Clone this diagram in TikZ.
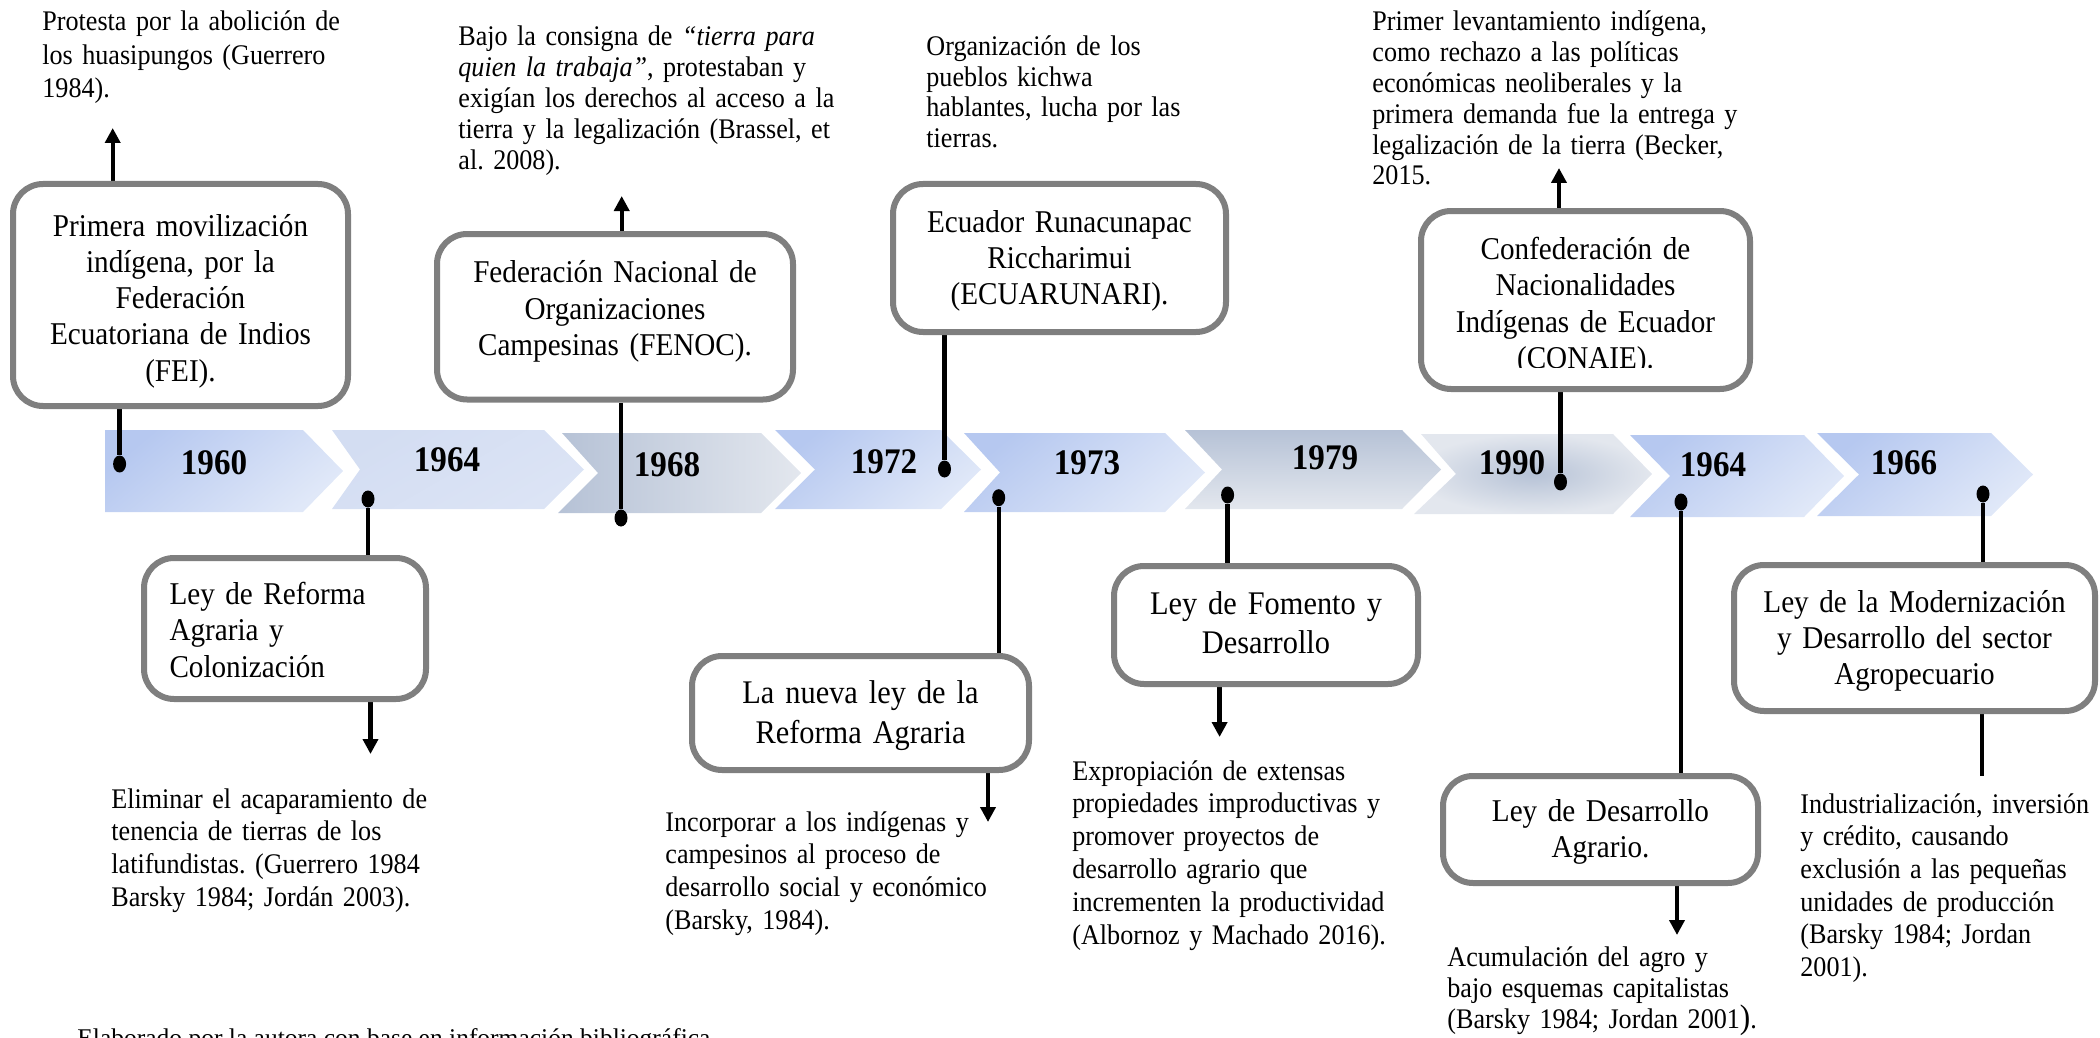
\documentclass[tikz,border=0pt]{standalone}
\usepackage{fontspec}
\setmainfont{Liberation Serif}[FakeStretch=0.92]
\newfontfamily\capfont{Liberation Serif}
\usetikzlibrary{arrows.meta,shapes.geometric}
\pgfdeclarelayer{chev}
\pgfdeclarelayer{lines}
\pgfsetlayers{chev,lines,main}
\definecolor{boxgray}{HTML}{7F7F7F}
\definecolor{cbA}{HTML}{B6C8F0}
\definecolor{cbB}{HTML}{E0E8F8}
\definecolor{cpaleA}{HTML}{D3DDF2}
\definecolor{cpaleB}{HTML}{DCE4F5}
\definecolor{cgA}{HTML}{B6C2D6}
\definecolor{cgB}{HTML}{E3E7EE}
\newcommand\bxfont{\fontsize{15.85pt}{18.15pt}\selectfont}
\newcommand\bxfontL{\fontsize{16.5pt}{19.7pt}\selectfont}
\newcommand\yrfont{\fontsize{18pt}{18pt}\selectfont\bfseries}
% box text with vertical shift #1 (positive = lower)
\newcommand\bxt[2]{\rule{0pt}{\dimexpr 14pt+#1\relax}#2\rule[\dimexpr -6pt+#1\relax]{0pt}{0pt}}
\begin{document}
\frenchspacing
\begin{tikzpicture}[x=0.5pt,y=-0.5pt,
  conn/.style={line width=2.2pt, black},
  arr/.style={conn, -{Triangle[length=7.5pt,width=7.5pt]}},
  dotn/.style={ellipse, fill=black, inner sep=0pt, minimum width=6.5pt, minimum height=8.5pt},
  boxn/.style={draw=boxgray, line width=3pt, rounded corners=15pt, fill=white, inner sep=0pt, align=center, font=\bxfont},
  yr/.style={font=\yrfont, inner sep=0pt},
  tblock/.style={anchor=base west, inner sep=0pt, text width=280pt, align=left, font=\fontsize{14.2pt}{#1}\selectfont},
  chblue/.style={top color=cbA, bottom color=cbB, shading angle=40},
]
\useasboundingbox (0,0) rectangle (2100,1038);

% ---- chevrons ----
\begin{pgfonlayer}{chev}
\path[chblue] (105,430)--(303,430)--(343,471)--(303,512)--(105,512)--cycle;
\path[top color=cpaleA, bottom color=cpaleB, shading angle=30] (332,430)--(544,430)--(584,469.5)--(544,509)--(332,509)--(360,469.5)--cycle;
\path[left color=cgA, right color=cgB] (562,433)--(761,433)--(801,473)--(761,513)--(558,513)--(598,473)--cycle;
\path[chblue] (775,430)--(941,430)--(981,469.5)--(941,509)--(775,509)--(815,469.5)--cycle;
\path[chblue] (964,433)--(1165,433)--(1205,472.5)--(1165,512)--(964,512)--(1000,472.5)--cycle;
\path[top color=cgA, bottom color=cgB] (1185,430)--(1402,430)--(1441,469.5)--(1402,509)--(1185,509)--(1222,469.5)--cycle;
\path[inner color=cgA, outer color=cgB] (1421,434)--(1613,434)--(1652,474)--(1613,514)--(1414,514)--(1456,474)--cycle;
\path[chblue] (1630,435)--(1804,435)--(1844,476)--(1804,517)--(1630,517)--(1670,476)--cycle;
\path[chblue] (1817,433)--(1991,433)--(2033,474.5)--(1991,516)--(1817,516)--(1859,474.5)--cycle;
\end{pgfonlayer}

% ---- years ----
\node[yr] (y1960) at (214,463) {1960};
\node[yr] (y1964a) at (447,460) {1964};
\node[yr] (y1968) at (667,465) {1968};
\node[yr] (y1972) at (884,462) {1972};
\node[yr] (y1973) at (1087,463) {1973};
\node[yr] (y1979) at (1325,458) {1979};
\node[yr] (y1990) at (1512,463) {1990};
\node[yr] (y1964b) at (1713,465) {1964};
\node[yr] (y1966) at (1904,463) {1966};

% ---- dots ----
\node[dotn] (d1960) at (119.6,464) {};
\node[dotn] (d1964a) at (368,499) {};
\node[dotn] (d1968) at (621,518) {};
\node[dotn] (d1972) at (944.5,469) {};
\node[dotn] (d1973) at (998.7,497.7) {};
\node[dotn] (d1979) at (1227.6,495) {};
\node[dotn] (d1990) at (1560.5,482) {};
\node[dotn] (d1964b) at (1681,502) {};
\node[dotn] (d1966) at (1983,494) {};

% ---- boxes ----
\node[boxn, minimum width=167.5pt, minimum height=111pt, text width=160pt] (B1) at (180.5,295) {\bxt{3pt}{Primera movilización\\indígena, por la\\Federación\\Ecuatoriana de Indios\\(FEI).}};
\node[boxn, minimum width=178pt, minimum height=82.75pt, text width=170pt] (B2) at (615,316.75) {\bxt{-2.8pt}{Federación Nacional de\\Organizaciones\\Campesinas (FENOC).}};
\node[boxn, minimum width=166.5pt, minimum height=74pt, text width=160pt] (B3) at (1059.5,258) {\bxt{1.3pt}{Ecuador Runacunapac\\Riccharimui\\(ECUARUNARI).}};
\node[boxn, minimum width=164.5pt, minimum height=89pt, text width=158pt] (B4) at (1585.5,300) {\bxt{3.4pt}{Confederación de\\Nacionalidades\\Indígenas de Ecuador\\(CONAIE).}};
\fill[white] (1470,368) rectangle (1700,385.5);
\node[boxn, align=left, minimum width=141pt, minimum height=70.5pt, text width=115.5pt] (B5) at (285,628.5) {\bxt{2.2pt}{Ley de Reforma\\Agraria y\\Colonización}};
\node[boxn, font=\bxfontL, minimum width=168.5pt, minimum height=57pt, text width=160pt] (B6) at (860.5,713) {\bxt{1.3pt}{La nueva ley de la\\Reforma Agraria}};
\node[boxn, font=\bxfontL, minimum width=152pt, minimum height=59pt, text width=146pt] (B7) at (1266,625) {\bxt{0.4pt}{Ley de Fomento y\\Desarrollo}};
\node[boxn, minimum width=157.5pt, minimum height=53.5pt, text width=150pt] (B8) at (1600.5,829.5) {\bxt{1pt}{Ley de Desarrollo\\Agrario.}};
\node[boxn, minimum width=180.5pt, minimum height=73pt, text width=174pt] (B9) at (1914.5,638) {\bxt{1.2pt}{Ley de la Modernización\\y Desarrollo del sector\\Agropecuario}};

% ---- free ends ----
\coordinate (a1) at (112.7,128);
\coordinate (a2) at (621.7,196);
\coordinate (a4) at (1559,168);
\coordinate (a5) at (370.5,754);
\coordinate (a6) at (988,822);
\coordinate (a7) at (1219.6,737);
\coordinate (a8) at (1677,935);
\coordinate (e9) at (1982,776);

% ---- connectors ----
\begin{pgfonlayer}{lines}
\draw[conn] (B1.south -| d1960) -- (d1960);
\draw[conn] (B2.south -| d1968) -- (d1968);
\draw[conn] (B3.south -| d1972) -- (d1972);
\draw[conn] (B4.south -| d1990) -- (d1990);
\draw[conn] (d1964a) -- (d1964a |- B5.north);
\draw[conn] (d1973) -- (d1973 |- B6.north);
\draw[conn] (d1979) -- (d1979 |- B7.north);
\draw[conn] (d1964b) -- (d1964b |- B8.north);
\draw[conn] (d1966) -- (d1966 |- B9.north);
\draw[conn] (B9.south -| e9) -- (e9);
\draw[arr] (B1.north -| a1) -- (a1);
\draw[arr] (B2.north -| a2) -- (a2);
\draw[arr] (B4.north -| a4) -- (a4);
\draw[arr] (B5.south -| a5) -- (a5);
\draw[arr] (B6.south -| a6) -- (a6);
\draw[arr] (B7.south -| a7) -- (a7);
\draw[arr] (B8.south -| a8) -- (a8);
\end{pgfonlayer}

% ---- text blocks ----
\node[tblock=16.75pt] (T1) at (42,31) {Protesta por la abolición de\\los huasipungos (Guerrero\\1984).};
\node[tblock=15.5pt] (T2) at (458,46) {Bajo la consigna de \textit{“tierra para}\\\textit{quien la trabaja”}, protestaban y\\exigían los derechos al acceso a la\\tierra y la legalización (Brassel, et\\al. 2008).};
\node[tblock=15.25pt] (T3) at (926,56) {Organización de los\\pueblos kichwa\\hablantes, lucha por las\\tierras.};
\node[tblock=15.4pt] (T4) at (1372,31) {Primer levantamiento indígena,\\como rechazo a las políticas\\económicas neoliberales y la\\primera demanda fue la entrega y\\legalización de la tierra (Becker,\\2015.};
\node[tblock=16.4pt] (T5) at (111,808) {Eliminar el acaparamiento de\\tenencia de tierras de los\\latifundistas. (Guerrero 1984\\Barsky 1984; Jordán 2003).};
\node[tblock=16.4pt] (T6) at (665,831) {Incorporar a los indígenas y\\campesinos al proceso de\\desarrollo social y económico\\(Barsky, 1984).};
\node[tblock=16.4pt] (T7) at (1072,780) {Expropiación de extensas\\propiedades improductivas y\\promover proyectos de\\desarrollo agrario que\\incrementen la productividad\\(Albornoz y Machado 2016).};
\node[tblock=15.5pt] (T8) at (1447,966) {Acumulación del agro y\\bajo esquemas capitalistas\\(Barsky 1984; Jordan 2001{\fontsize{17pt}{17pt}\selectfont)}.};
\node[tblock=16.35pt] (T9) at (1800,813) {Industrialización, inversión\\y crédito, causando\\exclusión a las pequeñas\\unidades de producción\\(Barsky 1984; Jordan\\2001).};

\node[anchor=base west, inner sep=0pt, font=\capfont\fontsize{12.75pt}{15pt}\selectfont] (cap) at (77,1046) {Elaborado por la autora con base en información bibliográfica};
\end{tikzpicture}
\end{document}
